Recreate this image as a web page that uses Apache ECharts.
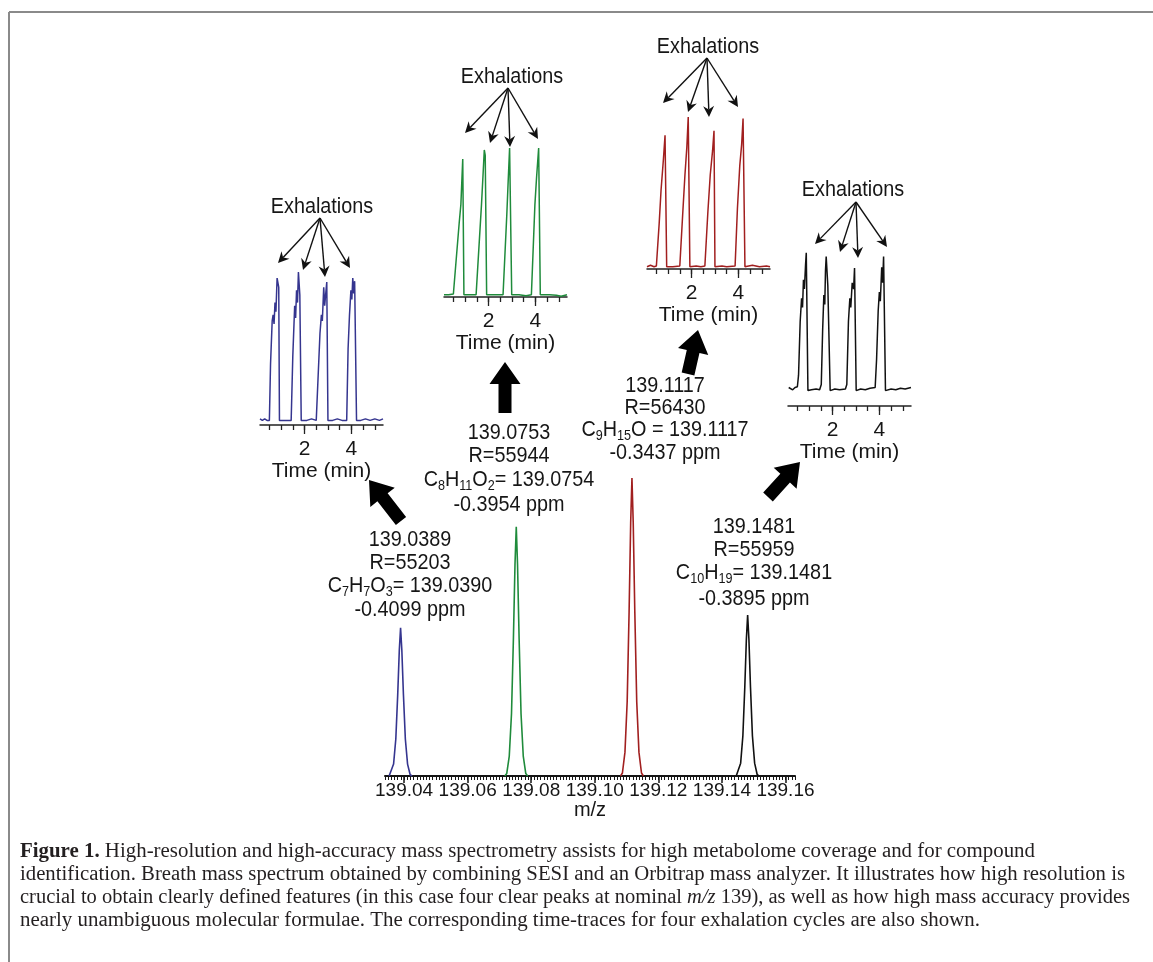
<!DOCTYPE html>
<html><head><meta charset="utf-8">
<script src="https://cdn.jsdelivr.net/npm/echarts@6/dist/echarts.min.js"></script>
<style>html,body{margin:0;padding:0;background:#fff}#c{width:1153px;height:962px}</style>
</head><body><div id="c"></div>
<script>
// ---------- DATA ----------
const mzTicks = [139.04, 139.06, 139.08, 139.10, 139.12, 139.14, 139.16];
const timeTicks = [0.5, 1, 1.5, 2, 2.5, 3, 3.5, 4, 4.5, 5];
const timeLabels = [2, 4];

// main spectrum peaks (m/z, relative intensity)
const blueMz  = [139.0353,139.0359,139.0367,139.0374,139.0380,139.0385,139.0389,139.0393,139.0398,139.0404,139.0411,139.0419,139.0425];
const blueInt = [0,0.5,4,12.4,27.3,42.2,49.7,42.2,27.3,12.4,4,0.5,0];
const greenMz  = [139.0717,139.0723,139.0731,139.0738,139.0744,139.0749,139.0753,139.0757,139.0762,139.0768,139.0775,139.0783,139.0789];
const greenInt = [0,0.8,6.7,20.9,46,71,83.6,71,46,20.9,6.7,0.8,0];
const redMz  = [139.1081,139.1087,139.1095,139.1102,139.1108,139.1113,139.1117,139.1121,139.1126,139.1132,139.1139,139.1147,139.1153];
const redInt = [0,1,8,25,55,85,100,85,55,25,8,1,0];
const blackMz  = [139.1445,139.1451,139.1459,139.1466,139.1472,139.1477,139.1481,139.1485,139.1490,139.1496,139.1503,139.1511,139.1517];
const blackInt = [0,0.5,4.3,13.5,29.7,45.9,54,45.9,29.7,13.5,4.3,0.5,0];

// time traces (min, relative signal)
const blueT = [0.1,0.2,0.3,0.4,0.5,0.55,0.62,0.66,0.7,0.74,0.78,0.83,0.9,0.93,1.1,1.3,1.43,1.5,1.58,1.62,1.66,1.7,1.74,1.8,1.86,2.1,2.3,2.5,2.58,2.66,2.72,2.76,2.82,2.86,2.95,3.0,3.2,3.4,3.6,3.8,3.86,3.92,3.98,4.02,4.06,4.1,4.14,4.22,4.4,4.6,4.8,5.0,5.2,5.35];
const blueI = [4,3,4,3,3,40,68,72,66,80,74,96,90,3,3,3,3,45,78,70,88,80,100,85,3,3,4,3,3,60,72,68,90,78,93.5,3,3,4,3,3,50,72,88,82,96,86,94,3,3,4,3,4,3,4];
const greenT = [0.1,0.3,0.5,0.55,0.75,0.82,0.9,0.95,1.2,1.47,1.7,1.76,1.82,1.86,1.92,2.2,2.62,2.78,2.84,2.9,2.99,3.3,3.6,3.83,3.98,4.05,4.14,4.21,4.6,4.9,5.1,5.35];
const greenI = [1.5,1.5,2,1.5,50,62,92.6,1.5,1.5,1.5,62,80,98.7,95,1.5,1.5,1.5,55,78,100,1.5,1.5,0.8,1.5,62,80,100,1.5,1.5,1.2,0.5,1.5];
const redT = [0.1,0.25,0.4,0.5,0.62,0.7,0.8,0.87,0.94,1.2,1.5,1.62,1.72,1.8,1.86,1.93,2.2,2.4,2.57,2.7,2.8,2.9,2.96,3.0,3.3,3.5,3.86,3.96,4.06,4.14,4.2,4.28,4.6,4.9,5.2,5.35];
const redI = [1.5,2.5,1.5,2,30,52,72,88,1.5,1.5,2,35,62,80,100,1.5,2,1.5,2,38,62,78,91,1.5,2,1.5,2,40,68,82,99,1.5,2.5,1.5,2,1.5];
const blackT = [0.13,0.2,0.3,0.4,0.5,0.55,0.62,0.68,0.72,0.76,0.8,0.85,0.88,0.95,1.1,1.3,1.45,1.52,1.58,1.63,1.67,1.7,1.73,1.8,1.9,2.1,2.3,2.55,2.61,2.68,2.74,2.78,2.84,2.9,2.94,3.01,3.2,3.4,3.6,3.82,3.88,3.95,4.0,4.04,4.1,4.14,4.18,4.26,4.5,4.7,4.9,5.1,5.35];
const blackI = [12,11,10.5,12,12.5,20,55,70,64,82,76,92,99.5,10,10.5,11,10.5,14,50,72,66,88,97,78,10,11,10.5,11,14,55,70,64,80,76,89.6,10,11,10.5,11.5,12,30,62,74,68,90,80,97,10,11,10.5,11.5,11,12];

// ---------- STYLE / LAYOUT ----------
function hasFont(name){
  const c=document.createElement('canvas').getContext('2d');
  const s='mmmmmmmmmmlli1234567890WWWabc';
  c.font='40px monospace'; const a=c.measureText(s).width;
  c.font='40px "'+name+'", monospace'; const b=c.measureText(s).width;
  return Math.abs(a-b)>0.5;
}
const NARROW = hasFont('Liberation Sans Narrow');
const SANS = NARROW ? '"Liberation Sans Narrow","Liberation Sans",Arial,sans-serif' : '"Liberation Sans",Arial,sans-serif';
const SX = NARROW ? 1 : 0.9;
const AXFS = NARROW ? 22 : 19;
const INFS = NARROW ? 23 : 21;
const SERIF = '"Liberation Serif","DejaVu Serif",serif';
const INK = '#161616';
const C_BLUE='#35358f', C_GREEN='#1f8b3b', C_RED='#a11f1f', C_BLACK='#111111';
const pts = (xs, ys) => xs.map((x, i) => [x, ys[i]]);

const insetGrids = [
  {left:260, top:272, width:123, height:153},
  {left:444, top:148, width:123, height:149},
  {left:647, top:117, width:123, height:152},
  {left:788, top:252, width:123, height:154}
];
const xAxes = [
  { gridIndex:0, type:'value', position:'bottom', min:139.034, max:139.163,
    axisLine:{lineStyle:{color:INK,width:2}},
    axisTick:{customValues:mzTicks, length:7, lineStyle:{color:INK,width:1.5}},
    axisLabel:{customValues:mzTicks, formatter:v=>v.toFixed(2), color:INK, fontSize:AXFS, fontFamily:SANS, margin:5},
    splitLine:{show:false},
    name:'m/z', nameLocation:'middle', nameGap:22, nameTextStyle:{color:INK,fontSize:AXFS+1,fontFamily:SANS}
  },
  { gridIndex:0, type:'value', position:'bottom', min:139.034, max:139.163, interval:0.001,
    axisLine:{show:false}, axisLabel:{show:false}, splitLine:{show:false},
    axisTick:{length:4, lineStyle:{color:INK,width:1}}
  }
];
insetGrids.forEach((g, i) => {
  xAxes.push({ gridIndex:i+1, type:'value', position:'bottom', min:0.1, max:5.35,
    axisLine:{lineStyle:{color:'#222',width:1.5}},
    axisTick:{customValues:timeTicks, length:5, lineStyle:{color:'#222',width:1.3}},
    axisLabel:{show:false}, splitLine:{show:false}});
  xAxes.push({ gridIndex:i+1, type:'value', position:'bottom', min:0.1, max:5.35,
    axisLine:{show:false},
    axisTick:{customValues:timeLabels, length:9, lineStyle:{color:'#222',width:1.3}},
    axisLabel:{customValues:timeLabels, color:INK, fontSize:INFS, fontFamily:SANS, margin:14},
    splitLine:{show:false},
    name:'Time (min)', nameLocation:'middle', nameGap:31, nameTextStyle:{color:INK,fontSize:INFS,fontFamily:SANS}});
});
const yAxes = [0,1,2,3,4].map(i => ({gridIndex:i, type:'value', min:0, max:100, show:false}));

const lineS = (xi, yi, data, color, w) => ({type:'line', xAxisIndex:xi, yAxisIndex:yi, data, showSymbol:false,
  clip:false, lineStyle:{color, width:w}, silent:true});
const series = [
  lineS(0,0,pts(blueMz,blueInt),C_BLUE,1.6),
  lineS(0,0,pts(greenMz,greenInt),C_GREEN,1.6),
  lineS(0,0,pts(redMz,redInt),C_RED,1.6),
  lineS(0,0,pts(blackMz,blackInt),C_BLACK,1.6),
  lineS(2,1,pts(blueT,blueI),C_BLUE,1.5),
  lineS(4,2,pts(greenT,greenI),C_GREEN,1.5),
  lineS(6,3,pts(redT,redI),C_RED,1.5),
  lineS(8,4,pts(blackT,blackI),C_BLACK,1.5)
];

// ---------- ANNOTATIONS ----------
const G = [];
G.push({type:'line', shape:{x1:9,y1:12,x2:1153,y2:12}, style:{stroke:'#8a8a8a', lineWidth:2}});
G.push({type:'line', shape:{x1:9,y1:12,x2:9,y2:962}, style:{stroke:'#8a8a8a', lineWidth:2}});

function txt(x, y, text, opt){
  opt = opt || {};
  const fs = opt.fs || 22;
  const rich = {
    s:{fontSize:Math.round(fs*0.62), fontFamily:SANS, fill:INK, lineHeight:12, verticalAlign:'top', padding:[Math.round(fs*0.5),0,0,0]}
  };
  return {type:'text', x, y, scaleX: opt.sx || SX, silent:true,
    style:{text, x:0, y:0, fill:INK, fontSize:fs, fontFamily:SANS, lineHeight:23,
      align:opt.align||'center', textAlign:opt.align||'center', verticalAlign:'middle', textVerticalAlign:'middle', rich}};
}
function blockArrow(x1,y1,x2,y2){
  const sw=13, hw=31, hl=22;
  const dx=x2-x1, dy=y2-y1, L=Math.hypot(dx,dy), ux=dx/L, uy=dy/L, px=-uy, py=ux;
  const bx=x2-ux*hl, by=y2-uy*hl;
  return {type:'polygon', silent:true, shape:{points:[
    [x1+px*sw/2,y1+py*sw/2],[bx+px*sw/2,by+py*sw/2],[bx+px*hw/2,by+py*hw/2],[x2,y2],
    [bx-px*hw/2,by-py*hw/2],[bx-px*sw/2,by-py*sw/2],[x1-px*sw/2,y1-py*sw/2]]}, style:{fill:'#000'}};
}
function thinArrow(x1,y1,x2,y2){
  const hl=11, hw=5.5, notch=3.5;
  const dx=x2-x1, dy=y2-y1, L=Math.hypot(dx,dy), ux=dx/L, uy=dy/L, px=-uy, py=ux;
  const bx=x2-ux*hl, by=y2-uy*hl, nx=x2-ux*(hl-notch), ny=y2-uy*(hl-notch);
  return [
    {type:'line', silent:true, shape:{x1,y1,x2:nx,y2:ny}, style:{stroke:'#111', lineWidth:1.4}},
    {type:'polygon', silent:true, shape:{points:[[x2,y2],[bx+px*hw,by+py*hw],[nx,ny],[bx-px*hw,by-py*hw]]}, style:{fill:'#111'}}
  ];
}
const exhal = [
  {tx:322, ty:207, ax:320, ay:218, heads:[[278,263],[303,270],[325,277],[350,268]]},
  {tx:512, ty:77,  ax:508, ay:88,  heads:[[465,133],[490,143],[510,147],[538,139]]},
  {tx:708, ty:47,  ax:707, ay:58,  heads:[[663,103],[688,112],[709,117],[738,107]]},
  {tx:853, ty:190, ax:856, ay:202, heads:[[815,244],[840,252],[858,258],[887,247]]}
];
exhal.forEach(e => {
  G.push(txt(e.tx, e.ty, 'Exhalations', {fs:22}));
  e.heads.forEach(h => thinArrow(e.ax, e.ay, h[0], h[1]).forEach(el => G.push(el)));
});
const blocks = [
  {x:410, ys:[540,563,586,610], lines:['139.0389','R=55203','C{s|7}H{s|7}O{s|3}= 139.0390','-0.4099 ppm']},
  {x:509, ys:[433,456,480,505], lines:['139.0753','R=55944','C{s|8}H{s|11}O{s|2}= 139.0754','-0.3954 ppm']},
  {x:665, ys:[386,408,430,453], lines:['139.1117','R=56430','C{s|9}H{s|15}O = 139.1117','-0.3437 ppm']},
  {x:754, ys:[527,550,573,599], lines:['139.1481','R=55959','C{s|10}H{s|19}= 139.1481','-0.3895 ppm']}
];
blocks.forEach(b => b.lines.forEach((l, i) => G.push(txt(b.x, b.ys[i], l, {fs:22}))));
G.push(blockArrow(401,521,369,480));
G.push(blockArrow(505,413,505,362));
G.push(blockArrow(688,374,698,330));
G.push(blockArrow(768,497,800,462));

// caption
const capLines = [
  '{b|Figure 1.} High-resolution and high-accuracy mass spectrometry assists for high metabolome coverage and for compound',
  'identification. Breath mass spectrum obtained by combining SESI and an Orbitrap mass analyzer. It illustrates how high resolution is',
  'crucial to obtain clearly defined features (in this case four clear peaks at nominal {i|m/z} 139), as well as how high mass accuracy provides',
  'nearly unambiguous molecular formulae. The corresponding time-traces for four exhalation cycles are also shown.'
];
const capEnds = [1035, 1125, 1130, 980];
const capYs = [852, 875, 898, 921];
const CFS = 20;
const mctx = document.createElement('canvas').getContext('2d');
function capWidth(l){
  let w = 0;
  const re = /\{(b|i)\|([^}]*)\}|([^{]+)/g; let m;
  while ((m = re.exec(l))) {
    if (m[1] === 'b') mctx.font = 'bold ' + CFS + 'px ' + SERIF;
    else if (m[1] === 'i') mctx.font = 'italic ' + CFS + 'px ' + SERIF;
    else mctx.font = CFS + 'px ' + SERIF;
    w += mctx.measureText(m[2] !== undefined ? m[2] : m[3]).width;
  }
  return w;
}
capLines.forEach((l, i) => G.push({type:'text', x:20, y:capYs[i], scaleX:(capEnds[i]-20)/capWidth(l), silent:true,
  style:{text:l, x:0, y:0, fill:'#231f20', fontSize:CFS, fontFamily:SERIF, align:'left', textAlign:'left',
    verticalAlign:'middle', textVerticalAlign:'middle',
    rich:{b:{fontSize:CFS, fontFamily:SERIF, fontWeight:'bold', fill:'#231f20'},
          i:{fontSize:CFS, fontFamily:SERIF, fontStyle:'italic', fill:'#231f20'}}}}));

const chart = echarts.init(document.getElementById('c'), null, {renderer:'canvas'});
chart.setOption({
  animation:false,
  backgroundColor:'#ffffff',
  grid:[{left:385, top:478, width:410, height:298}].concat(insetGrids),
  xAxis:xAxes, yAxis:yAxes, series, graphic:{elements:G}
});
</script></body></html>
